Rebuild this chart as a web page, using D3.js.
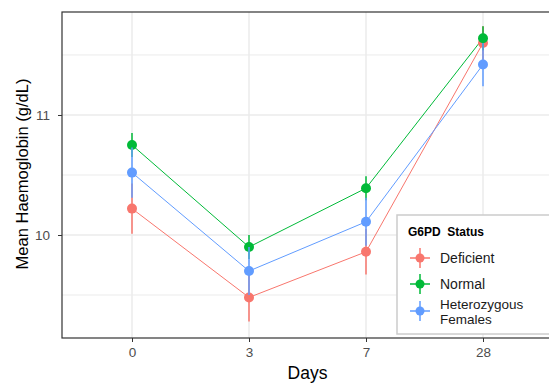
<!DOCTYPE html>
<html>
<head>
<meta charset="utf-8">
<script src="https://cdn.jsdelivr.net/npm/d3@7"></script>
<style>
  body { margin: 0; background: #fff; }
  svg { font-family: "Liberation Sans", Arial, sans-serif; }
</style>
</head>
<body>
<div id="chart"></div>
<script>
// данные
var days = ["0", "3", "7", "28"];
var groups = ["Deficient", "Normal", "Heterozygous Females"];
var colors = ["#F8766D", "#00BA38", "#619CFF"];
var deficientMean = [10.22, 9.48, 9.86, 11.60];
var deficientSe = [0.21, 0.20, 0.19, 0.14];
var normalMean = [10.75, 9.90, 10.39, 11.64];
var normalSe = [0.10, 0.10, 0.10, 0.10];
var heteroMean = [10.52, 9.70, 10.11, 11.42];
var heteroSe = [0.21, 0.20, 0.20, 0.18];
var yTicks = [10, 11];
var yMinor = [9.5, 10.5, 11.5];

var series = [
  {name: groups[0], mean: deficientMean, se: deficientSe, color: colors[0]},
  {name: groups[1], mean: normalMean, se: normalSe, color: colors[1]},
  {name: groups[2], mean: heteroMean, se: heteroSe, color: colors[2]}
];

var width = 549, height = 383;
var panel = {left: 62, top: 12, right: 553, bottom: 338};

var svg = d3.select("#chart").append("svg")
  .attr("width", width)
  .attr("height", height);

var xScale = d3.scalePoint()
  .domain(days)
  .range([132, 483]);

var yScale = d3.scaleLinear()
  .domain([9.142, 11.858])
  .range([panel.bottom, panel.top]);

// сетка
var grid = svg.append("g");
grid.selectAll(".minor").data(yMinor).enter().append("line")
  .attr("x1", panel.left).attr("x2", panel.right)
  .attr("y1", d => yScale(d)).attr("y2", d => yScale(d))
  .attr("stroke", "#ebebeb").attr("stroke-width", 1);
grid.selectAll(".major").data(yTicks).enter().append("line")
  .attr("x1", panel.left).attr("x2", panel.right)
  .attr("y1", d => yScale(d)).attr("y2", d => yScale(d))
  .attr("stroke", "#ebebeb").attr("stroke-width", 1.5);
grid.selectAll(".vx").data(days).enter().append("line")
  .attr("x1", d => xScale(d)).attr("x2", d => xScale(d))
  .attr("y1", panel.top).attr("y2", panel.bottom)
  .attr("stroke", "#ebebeb").attr("stroke-width", 1.5);

// оси
var xAxis = d3.axisBottom(xScale).tickSize(4).tickPadding(5);
var yAxis = d3.axisLeft(yScale).tickValues(yTicks).tickSize(4).tickPadding(8).tickFormat(d3.format("d"));

var gx = svg.append("g")
  .attr("transform", `translate(0, ${panel.bottom})`)
  .call(xAxis);
var gy = svg.append("g")
  .attr("transform", `translate(${panel.left}, 0)`)
  .call(yAxis);
[gx, gy].forEach(function(g) {
  g.select(".domain").remove();
  g.selectAll(".tick line").attr("stroke", "#333333");
  g.selectAll(".tick text").attr("fill", "#4d4d4d").style("font-size", "13.5px");
});

// линии, ошибки, точки
var line = d3.line()
  .x((d, i) => xScale(days[i]))
  .y(d => yScale(d));

series.forEach(function(s) {
  svg.append("path")
    .datum(s.mean)
    .attr("fill", "none")
    .attr("stroke", s.color)
    .attr("stroke-width", 1)
    .attr("d", line);
});

series.forEach(function(s) {
  var g = svg.append("g");
  g.selectAll("line").data(s.mean).enter().append("line")
    .attr("x1", (d, i) => xScale(days[i]))
    .attr("x2", (d, i) => xScale(days[i]))
    .attr("y1", (d, i) => yScale(d - s.se[i]))
    .attr("y2", (d, i) => yScale(d + s.se[i]))
    .attr("stroke", s.color)
    .attr("stroke-width", 1.5);
  g.selectAll("circle").data(s.mean).enter().append("circle")
    .attr("cx", (d, i) => xScale(days[i]))
    .attr("cy", d => yScale(d))
    .attr("r", 5)
    .attr("fill", s.color);
});

// рамка панели
svg.append("rect")
  .attr("x", panel.left).attr("y", panel.top)
  .attr("width", panel.right - panel.left)
  .attr("height", panel.bottom - panel.top)
  .attr("fill", "none")
  .attr("stroke", "#333333")
  .attr("stroke-width", 1.2);

// подписи осей
svg.append("text")
  .attr("x", (panel.left + panel.right) / 2)
  .attr("y", 379)
  .attr("text-anchor", "middle")
  .style("font-size", "17.5px")
  .attr("fill", "#000")
  .text("Days");

svg.append("text")
  .attr("transform", `translate(28, 174) rotate(-90)`)
  .attr("text-anchor", "middle")
  .style("font-size", "16.5px")
  .attr("fill", "#000")
  .text("Mean Haemoglobin (g/dL)");

// легенда
var legend = svg.append("g").attr("transform", "translate(397, 215)");
legend.append("rect")
  .attr("x", 0).attr("y", 0)
  .attr("width", 170).attr("height", 119)
  .attr("fill", "#fff")
  .attr("stroke", "#cccccc")
  .attr("stroke-width", 1.5);
legend.append("text")
  .attr("x", 11).attr("y", 21)
  .style("font-size", "12px")
  .style("font-weight", "bold")
  .style("white-space", "pre")
  .attr("fill", "#000")
  .text("G6PD  Status");

var keyY = [43, 69, 96];
series.forEach(function(s, i) {
  var k = legend.append("g").attr("transform", `translate(23, ${keyY[i]})`);
  k.append("line").attr("x1", -10).attr("x2", 10).attr("y1", 0).attr("y2", 0)
    .attr("stroke", s.color).attr("stroke-width", 1.5);
  k.append("line").attr("x1", 0).attr("x2", 0).attr("y1", -10).attr("y2", 10)
    .attr("stroke", s.color).attr("stroke-width", 1.5);
  k.append("circle").attr("r", 4.5).attr("fill", s.color);
});

legend.append("text").attr("x", 43).attr("y", 48)
  .style("font-size", "14px").attr("fill", "#1a1a1a").text(groups[0]);
legend.append("text").attr("x", 43).attr("y", 74)
  .style("font-size", "14px").attr("fill", "#1a1a1a").text(groups[1]);
var heteroLines = groups[2].split(" ");
legend.selectAll(".het").data(heteroLines).enter().append("text")
  .attr("x", 43)
  .attr("y", (d, i) => 94 + i * 15)
  .style("font-size", "13.5px")
  .attr("fill", "#1a1a1a")
  .text(d => d);
</script>
</body>
</html>
